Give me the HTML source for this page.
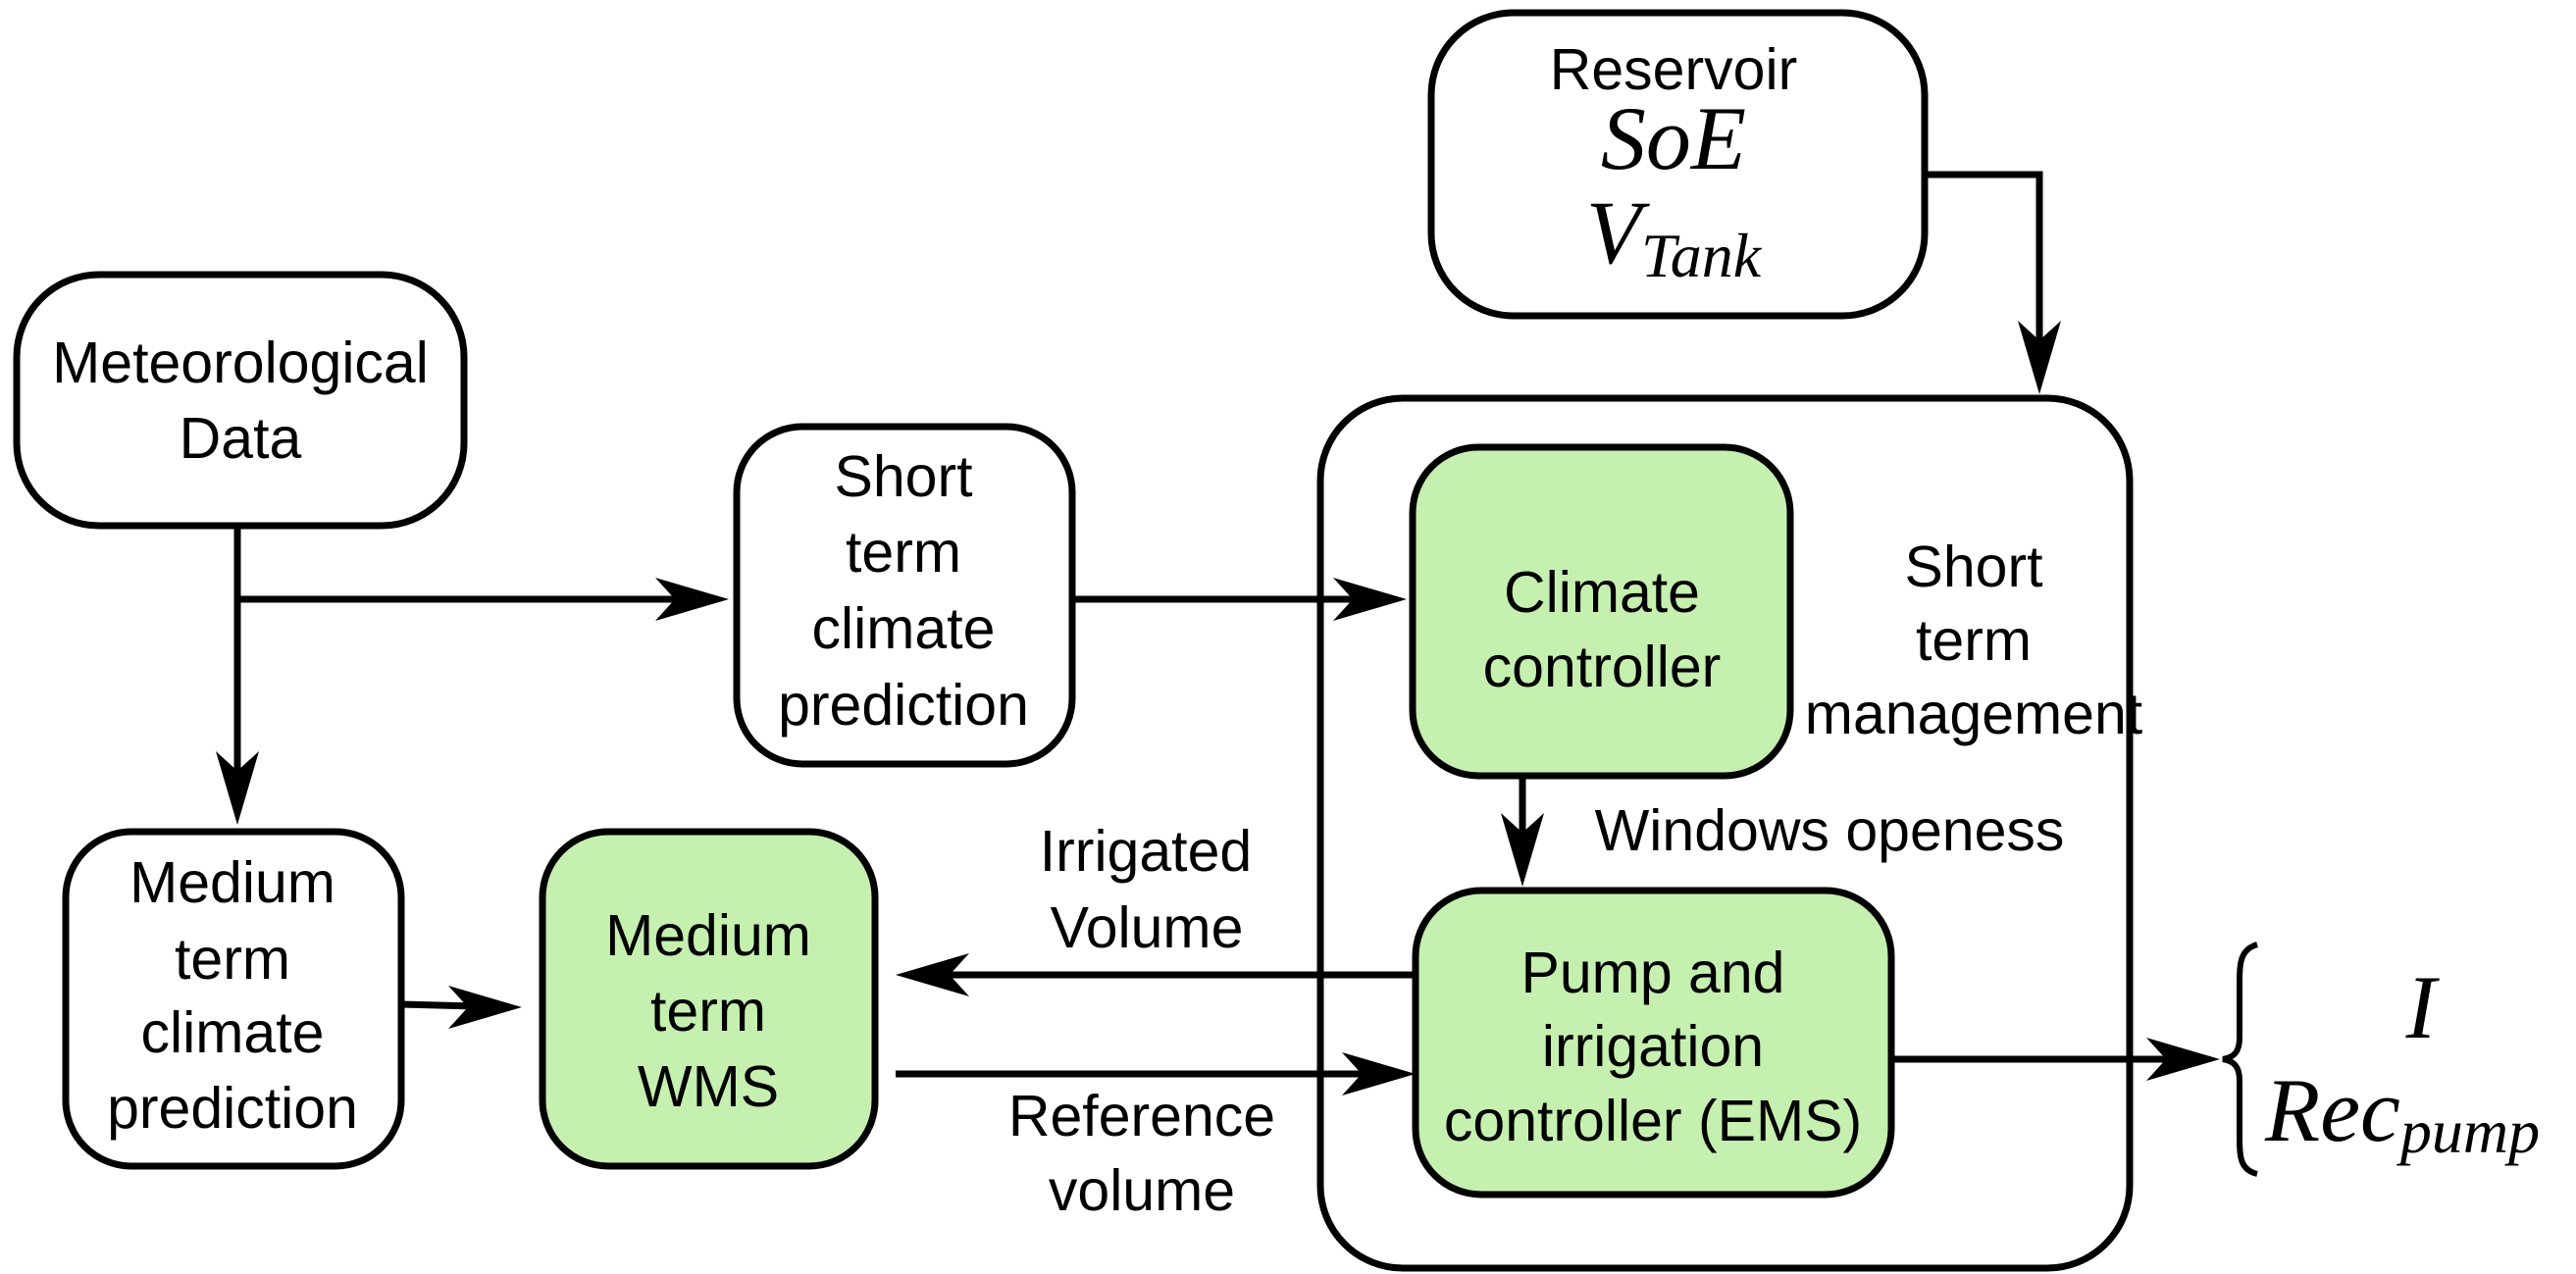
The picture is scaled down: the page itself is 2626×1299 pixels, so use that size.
<!DOCTYPE html>
<html><head><meta charset="utf-8"><style>
html,body{margin:0;padding:0;background:#fff;}
svg{display:block;}
text{font-family:"Liberation Sans",sans-serif;font-size:59px;fill:#000;text-anchor:middle;}
</style></head><body>
<svg width="2626" height="1299" viewBox="0 0 2626 1299" xmlns="http://www.w3.org/2000/svg">
<defs>
<path id="ah" d="M0,0 L-75,-22 L-55,0 L-75,22 Z" fill="#000"/>
</defs>
<g fill="none" stroke="#000" stroke-width="7">
<rect x="17" y="280" width="456" height="256" rx="84"/>
<rect x="751" y="435" width="342" height="344" rx="67"/>
<rect x="67" y="848" width="342" height="341" rx="67"/>
<rect x="553" y="848" width="339" height="341" rx="67" fill="#c5f0b0"/>
<rect x="1459" y="13" width="503" height="309" rx="84"/>
<rect x="1346" y="406" width="825" height="887" rx="84"/>
<rect x="1440" y="456" width="385" height="335" rx="67" fill="#c5f0b0"/>
<rect x="1443" y="908" width="485" height="310" rx="67" fill="#c5f0b0"/>
<path d="M242,536 V790"/>
<path d="M242,611 H700"/>
<path d="M1093,611 H1390"/>
<path d="M409,1024 L485,1026"/>
<path d="M1443,994 H960"/>
<path d="M913,1095 H1400"/>
<path d="M1962,178 H2079 V360"/>
<path d="M1552,791 V860"/>
<path d="M1928,1080 H2220"/>
<path d="M2301,963 C2284,968 2283,982 2283,1000 V1058 C2283,1072 2278,1078 2266,1080 C2278,1082 2283,1088 2283,1102 V1160 C2283,1180 2284,1193 2301,1197" stroke-width="6"/>
</g>
<use href="#ah" transform="translate(242,841) rotate(90)"/>
<use href="#ah" transform="translate(743,611)"/>
<use href="#ah" transform="translate(1434,611)"/>
<use href="#ah" transform="translate(532,1027)"/>
<use href="#ah" transform="translate(913,994) rotate(180)"/>
<use href="#ah" transform="translate(1443,1095)"/>
<use href="#ah" transform="translate(2079,402) rotate(90)"/>
<use href="#ah" transform="translate(1552,904) rotate(90)"/>
<use href="#ah" transform="translate(2263,1080)"/>
<text x="245" y="390">Meteorological</text>
<text x="245" y="467">Data</text>
<text x="921" y="506">Short</text>
<text x="921" y="583">term</text>
<text x="921" y="661">climate</text>
<text x="921" y="739">prediction</text>
<text x="237" y="920">Medium</text>
<text x="237" y="998">term</text>
<text x="237" y="1073">climate</text>
<text x="237" y="1150">prediction</text>
<text x="722" y="974">Medium</text>
<text x="722" y="1051">term</text>
<text x="722" y="1128">WMS</text>
<text x="1168" y="888">Irrigated</text>
<text x="1169" y="966">Volume</text>
<text x="1164" y="1158">Reference</text>
<text x="1164" y="1234">volume</text>
<text x="1706" y="91">Reservoir</text>
<text x="1706" y="172" style="font-family:'Liberation Serif',serif;font-style:italic;font-size:92px">SoE</text>
<text x="1706" y="268" style="font-family:'Liberation Serif',serif;font-style:italic;font-size:92px">V<tspan style="font-size:64px" dy="14">Tank</tspan></text>
<text x="1633" y="624">Climate</text>
<text x="1633" y="700">controller</text>
<text x="2012" y="598">Short</text>
<text x="2012" y="673">term</text>
<text x="2012" y="748">management</text>
<text x="1865" y="867">Windows openess</text>
<text x="1685" y="1012">Pump and</text>
<text x="1685" y="1087">irrigation</text>
<text x="1685" y="1163">controller (EMS)</text>
<text x="2468" y="1058" style="font-family:'Liberation Serif',serif;font-style:italic;font-size:92px">I</text>
<text x="2309" y="1163" style="font-family:'Liberation Serif',serif;font-style:italic;font-size:92px;text-anchor:start">Rec<tspan style="font-size:64px" dy="12">pump</tspan></text>
</svg>
</body></html>
